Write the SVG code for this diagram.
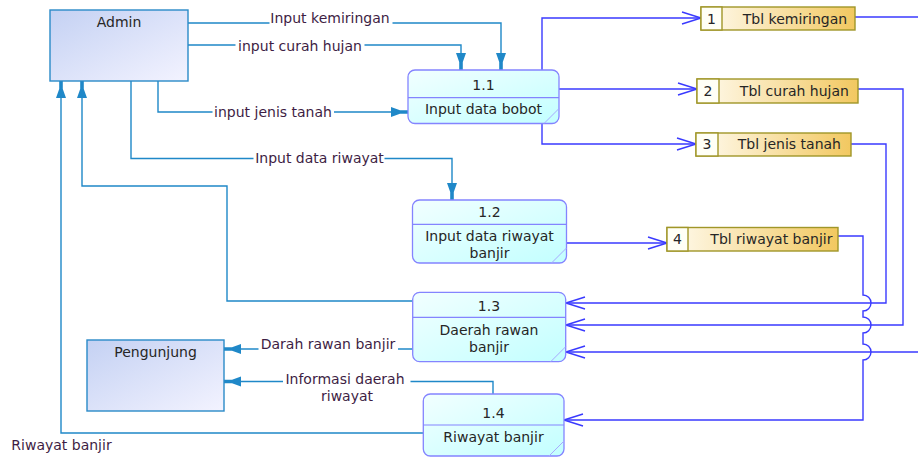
<svg xmlns="http://www.w3.org/2000/svg" width="918" height="458" viewBox="0 0 918 458">
<style>
text{font-family:"DejaVu Sans","Liberation Sans",sans-serif;font-size:14px;}
.nt{fill:#262626;text-anchor:middle;}
.lb{fill:#3e1e44;text-anchor:middle;}
.bg{fill:#ffffff;}
.ent{fill:url(#gEnt);stroke:#2a8ac8;stroke-width:1.4;}
.proc{fill:url(#gProc);stroke:#8484ff;stroke-width:1.3;}
.pdiv{stroke:#8484ff;stroke-width:1.2;fill:none;}
.fold{stroke:#a8a8ff;stroke-width:1;fill:none;}
.st{fill:url(#gStore);stroke:#a09628;stroke-width:1.4;}
.stn{fill:#fffff6;stroke:#a09628;stroke-width:1.4;}
.teal{fill:none;stroke:#1f88c8;stroke-width:1.4;marker-end:url(#ah);}
.blue{fill:none;stroke:#3a3aff;stroke-width:1.4;marker-end:url(#ch);}
.bluen{fill:none;stroke:#3a3aff;stroke-width:1.4;}
</style>
<defs>
<linearGradient id="gEnt" x1="0" y1="0" x2="1" y2="1">
<stop offset="0" stop-color="#c4d1f3"/>
<stop offset="1" stop-color="#f3f3ff"/>
</linearGradient>
<linearGradient id="gProc" x1="0" y1="0" x2="1" y2="1">
<stop offset="0" stop-color="#f2ffff"/>
<stop offset="1" stop-color="#c2ffff"/>
</linearGradient>
<linearGradient id="gStore" x1="0" y1="0" x2="1" y2="0">
<stop offset="0" stop-color="#fffbf0"/>
<stop offset="1" stop-color="#f2c860"/>
</linearGradient>
<marker id="ah" viewBox="0 0 17 12" refX="17" refY="6" markerWidth="17" markerHeight="12" markerUnits="userSpaceOnUse" orient="auto">
<path d="M0,1 L9,4.2 L17,4.2 L17,7.8 L9,7.8 L0,11 Z" fill="#1f88c8"/>
</marker>
<marker id="ch" viewBox="0 0 21 14" refX="20" refY="7" markerWidth="21" markerHeight="14" markerUnits="userSpaceOnUse" orient="auto">
<path d="M1,1 L20,7 L1,13" fill="none" stroke="#3a3aff" stroke-width="1.4"/>
</marker>
</defs>
<rect width="918" height="458" fill="#ffffff"/>

<g id="connectors">
<path class="teal" d="M188,23 H501 V70"/>
<path class="teal" d="M188,45 H461 V70"/>
<path class="teal" d="M158,81 V112 H408"/>
<path class="teal" d="M131,81 V158.5 H452 V200"/>
<path class="teal" d="M413,301 H227 V186 H82 V81"/>
<path class="teal" d="M423,433 H61 V81"/>
<path class="teal" d="M413,349 H224"/>
<path class="teal" d="M493,394 V381.5 H224"/>
<path class="blue" d="M542,70 V18 H701"/>
<path class="blue" d="M559,89 H697"/>
<path class="blue" d="M542,123 V144 H696"/>
<path class="blue" d="M566,243 H667"/>
<path class="bluen" d="M855,17 H930"/>
<path class="blue" d="M930,352 H566"/>
<path class="blue" d="M858,89 H903 V325 H566"/>
<path class="blue" d="M851,144 H886 V303 H566"/>
<path class="blue" d="M838,236 H863 V295 A8,8 0 0 1 863,311 V317 A8,8 0 0 1 863,333 V344 A8,8 0 0 1 863,360 V420 H564"/>
</g>

<g id="labels">
<rect class="bg" x="269.5" y="11" width="123" height="14"/>
<text class="lb" x="330" y="23">Input kemiringan</text>
<rect class="bg" x="235.5" y="38" width="129" height="15"/>
<text class="lb" x="300" y="50.5">input curah hujan</text>
<rect class="bg" x="212.5" y="104" width="121.5" height="15"/>
<text class="lb" x="273" y="116.5">input jenis tanah</text>
<rect class="bg" x="253.5" y="151" width="131" height="15"/>
<text class="lb" x="319.5" y="163">Input data riwayat</text>
<rect class="bg" x="258.5" y="336" width="139.5" height="15"/>
<text class="lb" x="328" y="348.5">Darah rawan banjir</text>
<rect class="bg" x="283" y="371" width="127.5" height="14"/>
<text class="lb" x="345" y="384">Informasi daerah</text>
<text class="lb" x="347" y="401">riwayat</text>
<text class="lb" x="61.5" y="450">Riwayat banjir</text>
</g>

<g id="admin">
<rect class="ent" x="50" y="10" width="138" height="71"/>
<text class="nt" x="119" y="27">Admin</text>
</g>

<g id="pengunjung">
<rect class="ent" x="87" y="340" width="137" height="71"/>
<text class="nt" x="155.5" y="357">Pengunjung</text>
</g>

<g id="p1-1">
<rect class="proc" x="408" y="70" width="151" height="53.5" rx="7"/>
<path class="pdiv" d="M408,97.7 H559"/>
<path class="fold" d="M559,108.5 L544,123.5"/>
<text class="nt" x="483.5" y="90">1.1</text>
<text class="nt" x="483.5" y="114">Input data bobot</text>
</g>

<g id="p1-2">
<rect class="proc" x="412.5" y="200" width="154" height="63" rx="7"/>
<path class="pdiv" d="M412.5,224.3 H566.5"/>
<path class="fold" d="M566.5,248 L551.5,263"/>
<text class="nt" x="489.5" y="217">1.2</text>
<text class="nt" x="489.5" y="240.5">Input data riwayat</text>
<text class="nt" x="489.5" y="257.5">banjir</text>
</g>

<g id="p1-3">
<rect class="proc" x="412.7" y="292.3" width="153" height="69.4" rx="7"/>
<path class="pdiv" d="M412.7,317.3 H565.7"/>
<path class="fold" d="M565.7,346.7 L550.7,361.7"/>
<text class="nt" x="489" y="310.5">1.3</text>
<text class="nt" x="489" y="335">Daerah rawan</text>
<text class="nt" x="489" y="352">banjir</text>
</g>

<g id="p1-4">
<rect class="proc" x="423.3" y="394" width="140.7" height="62" rx="7"/>
<path class="pdiv" d="M423.3,425 H564"/>
<path class="fold" d="M564,441 L549,456"/>
<text class="nt" x="493.5" y="417.5">1.4</text>
<text class="nt" x="493.5" y="441.5">Riwayat banjir</text>
</g>

<g id="store1">
<rect class="st" x="701" y="7" width="154" height="23"/>
<rect class="stn" x="701" y="7" width="21" height="23"/>
<text class="nt" x="711.5" y="23.5">1</text>
<text class="nt" x="795" y="23.5">Tbl kemiringan</text>
</g>

<g id="store2">
<rect class="st" x="697" y="79" width="161" height="24"/>
<rect class="stn" x="697" y="79" width="22" height="24"/>
<text class="nt" x="708" y="95.5">2</text>
<text class="nt" x="794.4" y="95.5">Tbl curah hujan</text>
</g>

<g id="store3">
<rect class="st" x="696" y="133" width="155" height="23"/>
<rect class="stn" x="696" y="133" width="22" height="23"/>
<text class="nt" x="707" y="148.5">3</text>
<text class="nt" x="789.4" y="148.5">Tbl jenis tanah</text>
</g>

<g id="store4">
<rect class="st" x="667" y="227.5" width="171" height="23.5"/>
<rect class="stn" x="667" y="227.5" width="21" height="23.5"/>
<text class="nt" x="677.5" y="243.5">4</text>
<text class="nt" x="771.4" y="243.5">Tbl riwayat banjir</text>
</g>
</svg>
